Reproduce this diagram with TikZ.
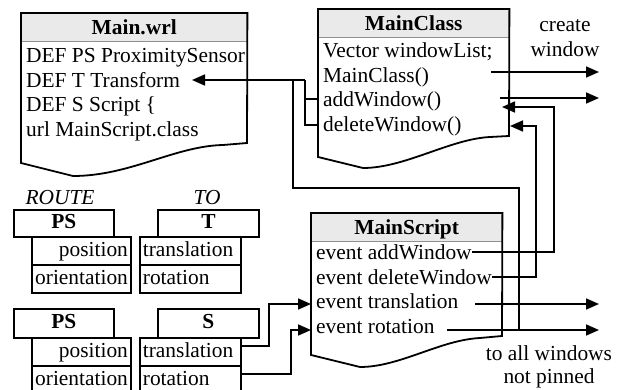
\documentclass[tikz,border=0pt]{standalone}
\usepackage{fontspec}
\setmainfont{Liberation Serif}
\usepackage{tikz}
\usetikzlibrary{arrows.meta, positioning, calc}

\definecolor{headgray}{RGB}{234,234,234}
\definecolor{rulegray}{RGB}{145,145,145}

\tikzset{
  frame/.style={line width=1.8pt, line join=miter},
  wire/.style={line width=1.7pt},
  tip/.style={wire, -{Triangle[length=13pt, width=11pt]}},
  headbox/.style={fill=headgray, inner sep=0pt, minimum height=28pt, anchor=north west,
                  text height=14.5pt, text depth=0pt},
  hrule/.style={rulegray, line width=1.5pt},
  codeline/.style={inner sep=0pt, anchor=base west},
  cell/.style={draw, line width=1.8pt, inner sep=0pt, minimum height=28pt, anchor=north west,
               text height=14.5pt, text depth=4pt},
  keycell/.style={cell, minimum width=100pt},
  fieldR/.style={cell, text width=93pt, inner xsep=3pt, align=right},
  fieldL/.style={cell, text width=95pt, inner xsep=3pt, align=left},
}

\begin{document}
\begin{tikzpicture}[x=1pt, y=-1pt, font=\fontsize{21.4}{25}\selectfont]
\useasboundingbox (0,0) rectangle (624,390);

% Main.wrl
\node[headbox, minimum width=226pt] (wrlHead) at (21,13) {\textbf{Main.wrl}};
\draw[hrule] (wrlHead.south west) -- (wrlHead.south east);
\draw[frame] (21,163) -- (wrlHead.north west) -- (wrlHead.north east) -- (247,143)
  -- (223,145) .. controls (175,146) and (130,176) .. (73,176) -- cycle;
\node[codeline] (wrlPS) at (26,63) {DEF PS ProximitySensor};
\node[codeline] (wrlT) at (26,87.5) {DEF T Transform};
\node[codeline] (wrlS) at (26,112) {DEF S Script \{};
\node[codeline] (wrlUrl) at (26,136.5) {url MainScript.class};

% MainClass
\node[headbox, minimum width=191pt] (mcHead) at (318,9) {\textbf{MainClass}};
\draw[hrule] (mcHead.south west) -- (mcHead.south east);
\draw[frame] (318,157) -- (mcHead.north west) -- (mcHead.north east) -- (509,136)
  -- (490,137) .. controls (450,139) and (405,168) .. (363,168) -- cycle;
\node[codeline] (mcList) at (323,58) {Vector windowList;};
\node[codeline] (mcCtor) at (323,82.5) {MainClass()};
\node[codeline] (mcAdd) at (323,107) {addWindow()};
\node[codeline] (mcDel) at (323,131.5) {deleteWindow()};

\node[anchor=base] (createLbl) at (565,32) {create};
\node[anchor=base] (windowLbl) at (565,57) {window};

% MainScript
\node[headbox, minimum width=191pt] (msHead) at (311,213) {\textbf{MainScript}};
\draw[hrule] (msHead.south west) -- (msHead.south east);
\draw[frame] (311,355) -- (msHead.north west) -- (msHead.north east) -- (502,336)
  -- (480,338) .. controls (440,340) and (400,367) .. (360,367) -- cycle;
\node[codeline] (msAdd) at (316,259.5) {event addWindow};
\node[codeline] (msDel) at (316,284) {event deleteWindow};
\node[codeline] (msTrans) at (316,308.5) {event translation};
\node[codeline] (msRot) at (316,333) {event rotation};

\node[anchor=base] (allLbl) at (549,360) {to all windows};
\node[anchor=base] (pinLbl) at (549,383) {not pinned};

% ROUTE PS -> T
\node[anchor=base] (routeLbl) at (60,205) {\textit{ROUTE}};
\node[anchor=base] (toLbl) at (207,205) {\textit{TO}};
\node[keycell, minimum height=27pt] (psA) at (13,209) {\textbf{PS}};
\node[fieldR, text width=93pt] (psAPos) at (31,236) {position};
\node[fieldR] (psAOri) at (31,264) {orientation};
\node[keycell, minimum width=101pt, minimum height=27pt] (tKey) at (157,209) {\textbf{T}};
\node[fieldL] (tTrans) at (139,236) {translation};
\node[fieldL] (tRot) at (139,264) {rotation};

% ROUTE PS -> S
\node[keycell, minimum height=29pt] (psB) at (13,308) {\textbf{PS}};
\node[fieldR] (psBPos) at (31,337) {position};
\node[fieldR] (psBOri) at (31,365) {orientation};
\node[keycell, minimum width=101pt, minimum height=29pt] (sKey) at (157,308) {\textbf{S}};
\node[fieldL] (sTrans) at (139,337) {translation};
\node[fieldL] (sRot) at (139,365) {rotation};

% junctions and ends
\coordinate (tIn) at (192,80);
\coordinate (jT) at (305,80);
\coordinate (jR) at (293,80);
\coordinate (mcAddIn) at (318,99);
\coordinate (mcDelIn) at (318,125);
\coordinate (jBend) at (519,188);
\coordinate (jRot) at (519,330);
\coordinate (mcCtorOut) at (491,72);
\coordinate (mcAddOut) at (500,98);
\coordinate (winA) at (599,72);
\coordinate (winB) at (599,98);
\coordinate (upA) at (554,107);
\coordinate (upB) at (536,126);
\coordinate (mcAddBack) at (502,107);
\coordinate (mcDelBack) at (510,126);
\coordinate (trStart) at (475,304);
\coordinate (trOut) at (599,304);
\coordinate (rotStart) at (447,330);
\coordinate (rotOut) at (599,330);
\coordinate (bendTr) at (269,304);
\coordinate (bendRot) at (291,330);
\coordinate (msTrIn) at (311,304);
\coordinate (msRotIn) at (311,330);

% MainClass -> T
\draw[tip] (jT) -- (tIn);
\draw[wire] (mcAddIn) -| (jT);
\draw[wire] (mcDelIn) -| (jT);
\draw[wire] (jR) |- (jBend) -- (jRot);

% window creation
\draw[tip] (mcCtorOut) -- (winA);
\draw[tip] (mcAddOut) -- (winB);

% MainScript events
\draw[tip] (msAdd.east) -| (upA) -- (mcAddBack);
\draw[tip] (msDel.east) -| (upB) -- (mcDelBack);
\draw[tip] (trStart) -- (trOut);
\draw[tip] (rotStart) -- (rotOut);

% S inputs
\draw[tip] ([yshift=6pt]sTrans.east) -| (bendTr) -- (msTrIn);
\draw[tip] ([yshift=6pt]sRot.east) -| (bendRot) -- (msRotIn);
\end{tikzpicture}
\end{document}
